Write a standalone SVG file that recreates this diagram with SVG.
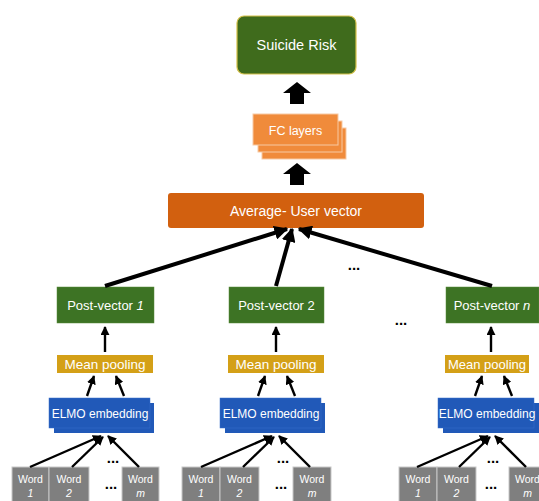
<svg xmlns="http://www.w3.org/2000/svg" width="539" height="501" viewBox="0 0 539 501">
<defs>
<marker id="ah" viewBox="0 0 10 10" refX="9" refY="5" markerWidth="14" markerHeight="14" markerUnits="userSpaceOnUse" orient="auto">
<path d="M0,0 L10,5 L0,10 Z" fill="#000"/>
</marker>
<marker id="ahs" viewBox="0 0 10 10" refX="9" refY="5" markerWidth="9" markerHeight="9" markerUnits="userSpaceOnUse" orient="auto">
<path d="M0,0 L10,5 L0,10 Z" fill="#000"/>
</marker>
</defs>
<style>
text{font-family:"Liberation Sans","DejaVu Sans",sans-serif;fill:#fff;text-anchor:middle}
.t{font-size:13px}
.s{font-size:12px}
.w{font-size:10.5px}
.pv{fill:#3d7324;stroke:#5a8a3a;stroke-width:0.5}
.mp{fill:#d4a017}
.el{fill:#2159b8}
.wd{fill:#7f7f7f;stroke:#c8c8c8;stroke-width:1}
.fc{fill:#f08b3b;stroke:#f7c9a3;stroke-width:1}
.ln{stroke:#000;stroke-width:4;fill:none;marker-end:url(#ah)}
.sl{stroke:#000;stroke-width:2.4;fill:none;marker-end:url(#ahs)}
.dots{fill:#000;font-size:15px;font-weight:bold}
</style>
<rect width="539" height="501" fill="#fff"/>

<g id="suicide-risk">
<rect x="237" y="16" width="119" height="58" rx="7" fill="#3f6b1c" stroke="#d6c24a" stroke-width="1.2"/>
<text x="296.5" y="50" font-size="14.5">Suicide Risk</text>
</g>

<g id="fc-layers">
<rect class="fc" x="262" y="128" width="84" height="31"/>
<rect class="fc" x="258" y="121" width="84" height="31"/>
<rect class="fc" x="253" y="114" width="85" height="31"/>
<text x="295.5" y="135" font-size="12.5">FC layers</text>
</g>

<g id="average-user-vector">
<rect x="168" y="193" width="256" height="35" rx="3" fill="#d2600f"/>
<text x="296" y="216" font-size="14">Average- User vector</text>
</g>

<g id="post-vector-1">
<rect class="pv" x="57" y="287" width="97" height="36"/>
<text class="t" x="105.5" y="310">Post-vector <tspan font-style="italic">1</tspan></text>
</g>
<g id="post-vector-2">
<rect class="pv" x="229" y="287" width="95" height="36"/>
<text class="t" x="276.5" y="310">Post-vector 2</text>
</g>
<g id="post-vector-n">
<rect class="pv" x="446" y="287" width="93" height="36"/>
<text class="t" x="492" y="310">Post-vector <tspan font-style="italic">n</tspan></text>
</g>

<g id="mean-pooling-1">
<rect class="mp" x="57" y="355" width="96" height="18"/>
<text x="105" y="369" font-size="13.5">Mean pooling</text>
</g>
<g id="mean-pooling-2">
<rect class="mp" x="228" y="355" width="96" height="18"/>
<text x="276" y="369" font-size="13.5">Mean pooling</text>
</g>
<g id="mean-pooling-n">
<rect class="mp" x="445" y="355" width="84" height="18"/>
<text x="487" y="369" font-size="13">Mean pooling</text>
</g>

<g id="elmo-1">
<rect class="el" x="54" y="403" width="100" height="30"/>
<rect class="el" x="49" y="398" width="101" height="30" stroke="#3a6fcc" stroke-width="0.5"/>
<text class="s" x="100" y="418">ELMO embedding</text>
</g>
<g id="elmo-2">
<rect class="el" x="225" y="403" width="100" height="30"/>
<rect class="el" x="220" y="398" width="101" height="30" stroke="#3a6fcc" stroke-width="0.5"/>
<text class="s" x="271" y="418">ELMO embedding</text>
</g>
<g id="elmo-n">
<rect class="el" x="443" y="403" width="96" height="30"/>
<rect class="el" x="438" y="398" width="96" height="30" stroke="#3a6fcc" stroke-width="0.5"/>
<text class="s" x="487" y="418">ELMO embedding</text>
</g>

<g id="words-1">
<rect class="wd" x="12" y="467" width="37" height="40"/>
<text class="w" x="30.5" y="483">Word</text><text class="w" x="30.5" y="497" font-style="italic">1</text>
<rect class="wd" x="49" y="467" width="40" height="40"/>
<text class="w" x="69" y="483">Word</text><text class="w" x="69" y="497" font-style="italic">2</text>
<rect class="wd" x="122" y="467" width="37" height="40"/>
<text class="w" x="140.5" y="483">Word</text><text class="w" x="140.5" y="497" font-style="italic">m</text>
<text class="dots" x="113" y="463">...</text>
<text class="dots" x="111" y="489">...</text>
</g>
<g id="words-2">
<rect class="wd" x="182" y="467" width="38" height="40"/>
<text class="w" x="201" y="483">Word</text><text class="w" x="201" y="497" font-style="italic">1</text>
<rect class="wd" x="220" y="467" width="39" height="40"/>
<text class="w" x="239.5" y="483">Word</text><text class="w" x="239.5" y="497" font-style="italic">2</text>
<rect class="wd" x="293" y="467" width="38" height="40"/>
<text class="w" x="312" y="483">Word</text><text class="w" x="312" y="497" font-style="italic">m</text>
<text class="dots" x="283" y="463">...</text>
<text class="dots" x="281" y="489">...</text>
</g>
<g id="words-n">
<rect class="wd" x="399" y="467" width="38" height="40"/>
<text class="w" x="418" y="483">Word</text><text class="w" x="418" y="497" font-style="italic">1</text>
<rect class="wd" x="437" y="467" width="39" height="40"/>
<text class="w" x="456.5" y="483">Word</text><text class="w" x="456.5" y="497" font-style="italic">2</text>
<rect class="wd" x="509" y="467" width="37" height="40"/>
<text class="w" x="527.5" y="483">Word</text><text class="w" x="527.5" y="497" font-style="italic">m</text>
<text class="dots" x="493" y="463">...</text>
<text class="dots" x="491" y="489">...</text>
</g>

<g id="ellipses">
<text class="dots" x="354" y="270" font-size="17">...</text>
<text class="dots" x="401" y="325" font-size="17">...</text>
</g>

<g id="connectors">
<path d="M290,104 V93 H283 L297,82 L311,93 H304 V104 Z" fill="#000"/>
<path d="M290,185 V174 H283 L297,163 L311,174 H304 V185 Z" fill="#000"/>
<line class="ln" x1="105" y1="286" x2="287" y2="229"/>
<line class="ln" x1="276" y1="286" x2="292" y2="229"/>
<line class="ln" x1="492" y1="286" x2="299" y2="229"/>

<line class="sl" x1="105" y1="352" x2="105" y2="327"/>
<line class="sl" x1="276" y1="352" x2="276" y2="327"/>
<line class="sl" x1="491" y1="352" x2="491" y2="327"/>

<line class="sl" x1="87" y1="396" x2="94" y2="376"/>
<line class="sl" x1="124" y1="396" x2="116" y2="376"/>
<line class="sl" x1="258" y1="396" x2="265" y2="376"/>
<line class="sl" x1="295" y1="396" x2="287" y2="376"/>
<line class="sl" x1="475" y1="396" x2="482" y2="376"/>
<line class="sl" x1="512" y1="396" x2="504" y2="376"/>

<line class="sl" x1="30" y1="467" x2="101" y2="436"/>
<line class="sl" x1="72" y1="467" x2="103" y2="437"/>
<line class="sl" x1="139" y1="467" x2="108" y2="436"/>
<line class="sl" x1="201" y1="467" x2="272" y2="436"/>
<line class="sl" x1="243" y1="467" x2="274" y2="437"/>
<line class="sl" x1="310" y1="467" x2="279" y2="436"/>
<line class="sl" x1="417" y1="467" x2="488" y2="436"/>
<line class="sl" x1="459" y1="467" x2="490" y2="437"/>
<line class="sl" x1="526" y1="467" x2="495" y2="436"/>
</g>
</svg>
